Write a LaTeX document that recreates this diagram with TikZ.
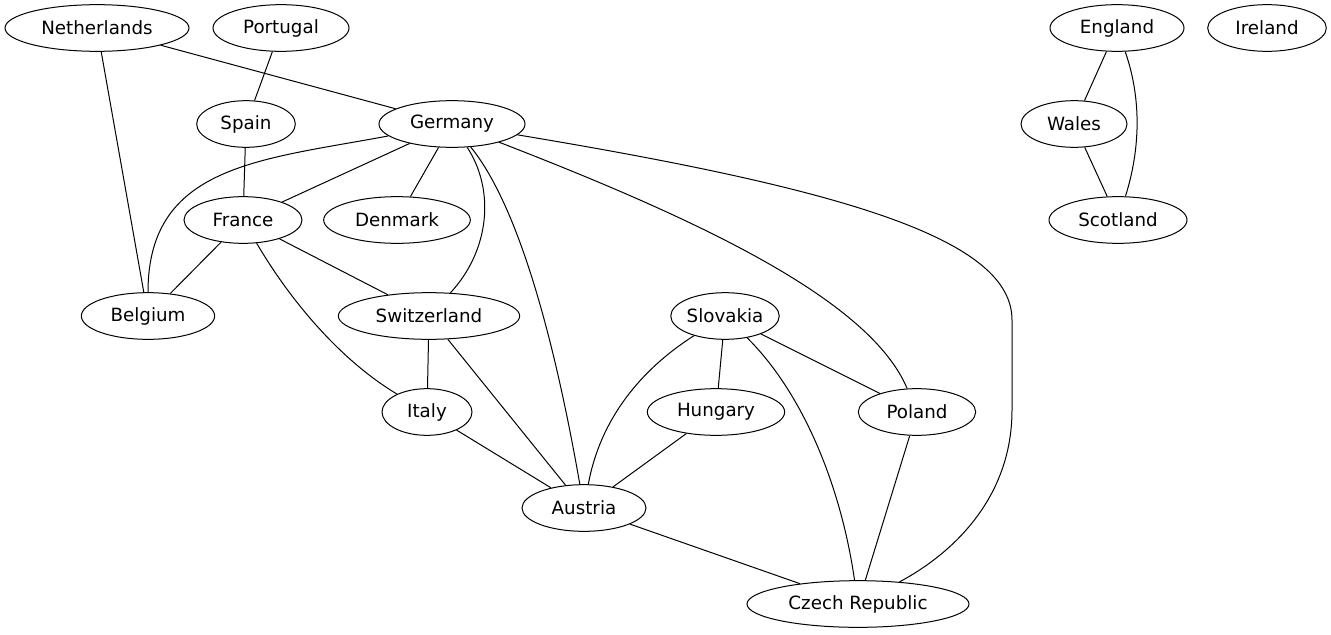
\documentclass[tikz,border=0pt]{standalone}
\usepackage{fontspec}
\setmainfont{DejaVu Sans}
\usetikzlibrary{shapes.geometric}

\begin{document}
\begin{tikzpicture}[x=0.75pt,y=-0.75pt,line width=0.75pt,
  country/.style={ellipse,draw,inner sep=0pt,minimum height=35pt,font=\fontsize{13.7pt}{16pt}\selectfont}]
\useasboundingbox (0,0) rectangle (1331,635);
\node[country,minimum width=138pt] (nl) at (97,28) {Netherlands};
\node[country,minimum width=102pt] (pt) at (281,28) {Portugal};
\node[country,minimum width=109.5pt] (de) at (452,124) {Germany};
\node[country,minimum width=74pt] (es) at (246,124) {Spain};
\node[country,minimum width=88.5pt] (fr) at (243,220) {France};
\node[country,minimum width=110pt] (dk) at (397,220) {Denmark};
\node[country,minimum width=100pt] (be) at (148,316) {Belgium};
\node[country,minimum width=136pt] (ch) at (429,316) {Switzerland};
\node[country,minimum width=80pt] (sk) at (725,316) {Slovakia};
\node[country,minimum width=67.5pt] (it) at (427,412) {Italy};
\node[country,minimum width=103pt] (hu) at (716,412) {Hungary};
\node[country,minimum width=88pt] (pl) at (917,412) {Poland};
\node[country,minimum width=93pt] (au) at (584,508) {Austria};
\node[country,minimum width=166.5pt] (cz) at (858,604) {Czech Republic};
\node[country,minimum width=100.5pt] (en) at (1117,28) {England};
\node[country,minimum width=89pt] (ie) at (1267,28) {Ireland};
\node[country,minimum width=79.5pt] (wa) at (1074,124) {Wales};
\node[country,minimum width=103.5pt] (sc) at (1118,220) {Scotland};
% straight edges
\draw (nl) -- (de);
\draw (nl) -- (be);
\draw (pt) -- (es);
\draw (es) -- (fr);
\draw (de) -- (fr);
\draw (de) -- (dk);
\draw (fr) -- (be);
\draw (fr) -- (ch);
\draw (ch) -- (it);
\draw (ch) -- (au);
\draw (it) -- (au);
\draw (sk) -- (hu);
\draw (sk) -- (pl);
\draw (hu) -- (au);
\draw (pl) -- (cz);
\draw (au) -- (cz);
\draw (en) -- (wa);
\draw (wa) -- (sc);
% curved edges
\draw (de) .. controls (260,160) and (148,165) .. (be);
\draw (de) .. controls (495,190) and (490,250) .. (ch);
\draw (de) .. controls (530,220) and (565,400) .. (au);
\draw (de) .. controls (700,220) and (870,300) .. (pl);
\draw (de) .. controls (850,190) and (1012,240) .. (1012,320) -- (1012,410) .. controls (1012,500) and (950,555) .. (cz);
\draw (fr) .. controls (290,300) and (340,360) .. (it);
\draw (sk) .. controls (640,370) and (600,420) .. (au);
\draw (sk) .. controls (800,390) and (840,480) .. (cz);
\draw (en) .. controls (1142,100) and (1140,150) .. (sc);
\end{tikzpicture}
\end{document}
